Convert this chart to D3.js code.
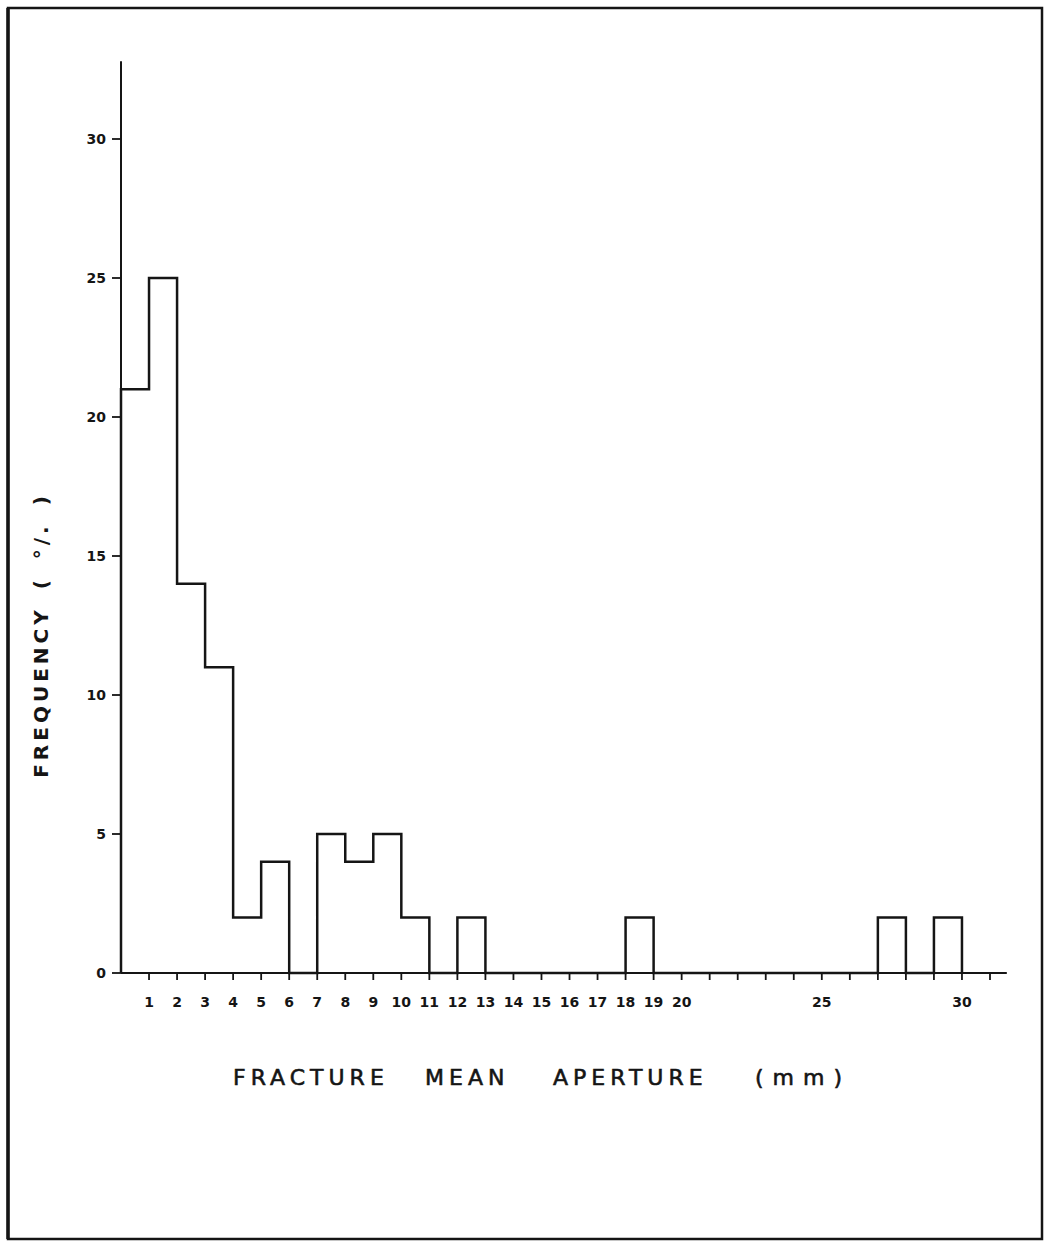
<!DOCTYPE html>
<html>
<head>
<meta charset="utf-8">
<script src="https://cdn.jsdelivr.net/npm/d3@7"></script>
<style>
  body { margin: 0; background: #fff; }
  svg { display: block; }
  text { fill: #151515; font-family: "DejaVu Sans", sans-serif; font-weight: bold; }
</style>
</head>
<body>
<svg id="chart" width="1045" height="1242"></svg>
<script>
// histogram bins: [start, start+1) in mm
let binStart = d3.range(0, 30);
let frequency = [21, 25, 14, 11, 2, 4, 0, 5, 4, 5, 2, 0, 2, 0, 0, 0, 0, 0, 2, 0, 0, 0, 0, 0, 0, 0, 0, 2, 0, 2];

let xTicks = d3.range(1, 32);
let xTickLabels = [1, 2, 3, 4, 5, 6, 7, 8, 9, 10, 11, 12, 13, 14, 15, 16, 17, 18, 19, 20, 25, 30];
let yTicks = [0, 5, 10, 15, 20, 25, 30];

let titleWords = ['FRACTURE', 'MEAN', 'APERTURE', '( m m )'];
let titleStarts = [233, 425, 553, 755];

let svg = d3.select('#chart');
let ink = '#151515';

// outer frame
svg.append('rect')
    .attr('x', 8).attr('y', 8)
    .attr('width', 1034).attr('height', 1231)
    .attr('fill', 'none')
    .attr('stroke', ink)
    .attr('stroke-width', 2.5);
svg.append('line')
    .attr('x1', 8).attr('x2', 8).attr('y1', 8).attr('y2', 1239)
    .attr('stroke', ink).attr('stroke-width', 3.5);

let x = d3.scaleLinear().domain([0, 31]).range([121, 990]);
let y = d3.scaleLinear().domain([0, 30]).range([973, 139]);

// axis lines
svg.append('line')
    .attr('x1', x(0)).attr('x2', x(31.6))
    .attr('y1', y(0)).attr('y2', y(0))
    .attr('stroke', ink).attr('stroke-width', 2);
svg.append('line')
    .attr('x1', x(0)).attr('x2', x(0))
    .attr('y1', y(0)).attr('y2', y(32.8))
    .attr('stroke', ink).attr('stroke-width', 2);

// x ticks (every mm) and labels
svg.selectAll('.xtick')
    .data(xTicks)
    .join('line')
    .attr('class', 'xtick')
    .attr('x1', d => x(d)).attr('x2', d => x(d))
    .attr('y1', y(0)).attr('y2', y(0) + 7)
    .attr('stroke', ink).attr('stroke-width', 1.8);

svg.selectAll('.xlab')
    .data(xTickLabels)
    .join('text')
    .attr('class', 'xlab')
    .attr('x', d => x(d))
    .attr('y', 1007)
    .attr('text-anchor', 'middle')
    .attr('font-size', 14)
    .text(d => d);

// y ticks and labels
svg.selectAll('.ytick')
    .data(yTicks)
    .join('line')
    .attr('class', 'ytick')
    .attr('x1', x(0) - 9).attr('x2', x(0))
    .attr('y1', d => y(d)).attr('y2', d => y(d))
    .attr('stroke', ink).attr('stroke-width', 1.8);

svg.selectAll('.ylab')
    .data(yTicks)
    .join('text')
    .attr('class', 'ylab')
    .attr('x', 106)
    .attr('y', d => y(d) + 5)
    .attr('text-anchor', 'end')
    .attr('font-size', 14)
    .text(d => d);

// histogram outline as a step line
let pts = [[0, 0]];
binStart.forEach((b, i) => pts.push([b, frequency[i]]));
pts.push([30, 0]);

let step = d3.line()
    .x(d => x(d[0]))
    .y(d => y(d[1]))
    .curve(d3.curveStepAfter);

svg.append('path')
    .attr('d', step(pts))
    .attr('fill', 'none')
    .attr('stroke', ink)
    .attr('stroke-width', 2.5);

// axis titles
let title = svg.append('text')
    .attr('y', 1085)
    .attr('font-size', 22)
    .attr('stroke', ink)
    .attr('stroke-width', 0.6)
    .style('font-weight', 'normal')
    .style('white-space', 'pre');
title.selectAll('tspan')
    .data(titleWords)
    .join('tspan')
    .attr('x', (d, i) => titleStarts[i])
    .style('letter-spacing', (d, i) => i === 3 ? '1px' : '5px')
    .text(d => d);

svg.append('text')
    .attr('transform', 'translate(48,635) rotate(-90)')
    .attr('text-anchor', 'middle')
    .attr('font-size', 20)
    .style('letter-spacing', '4px')
    .style('word-spacing', '6px')
    .text('FREQUENCY ( °/. )');
</script>
</body>
</html>
